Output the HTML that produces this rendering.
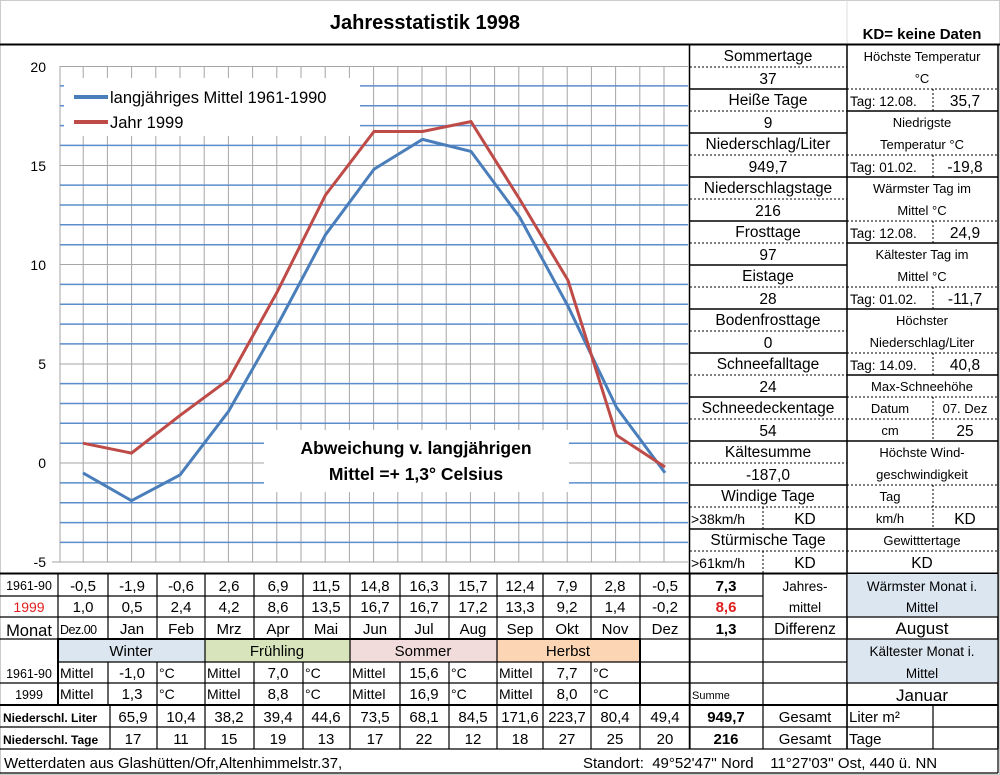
<!DOCTYPE html>
<html><head><meta charset="utf-8"><style>
body{margin:0;background:#fff}
svg{display:block;font-family:"Liberation Sans",sans-serif}
.c{text-anchor:middle}
</style></head><body>
<svg width="1000" height="775" viewBox="0 0 1000 775" xmlns="http://www.w3.org/2000/svg">
<rect x="0" y="0" width="1000" height="775" fill="#fff"/>
<rect x="0.5" y="0.5" width="999" height="774" fill="none" stroke="#ccc"/>
<line x1="847" y1="0" x2="847" y2="45" stroke="#ddd"/>
<text x="425" y="29" class="c" font-size="20" font-weight="bold">Jahresstatistik 1998</text>
<text x="922" y="39" class="c" font-size="15" font-weight="bold">KD= keine Daten</text>
<line x1="0" y1="44.5" x2="1000" y2="44.5" stroke="#000" stroke-width="2"/>

<!-- grid -->
<g stroke="#a6a6a6" stroke-width="1">
<line x1="83.2" y1="66" x2="83.2" y2="562"/><line x1="107.4" y1="66" x2="107.4" y2="562"/><line x1="131.6" y1="66" x2="131.6" y2="562"/><line x1="155.8" y1="66" x2="155.8" y2="562"/><line x1="180" y1="66" x2="180" y2="562"/><line x1="204.2" y1="66" x2="204.2" y2="562"/><line x1="228.4" y1="66" x2="228.4" y2="562"/><line x1="252.6" y1="66" x2="252.6" y2="562"/><line x1="276.8" y1="66" x2="276.8" y2="562"/><line x1="301" y1="66" x2="301" y2="562"/><line x1="325.2" y1="66" x2="325.2" y2="562"/><line x1="349.4" y1="66" x2="349.4" y2="562"/><line x1="373.6" y1="66" x2="373.6" y2="562"/><line x1="397.8" y1="66" x2="397.8" y2="562"/><line x1="422" y1="66" x2="422" y2="562"/><line x1="446.2" y1="66" x2="446.2" y2="562"/><line x1="470.4" y1="66" x2="470.4" y2="562"/><line x1="494.6" y1="66" x2="494.6" y2="562"/><line x1="518.8" y1="66" x2="518.8" y2="562"/><line x1="543" y1="66" x2="543" y2="562"/><line x1="567.2" y1="66" x2="567.2" y2="562"/><line x1="591.4" y1="66" x2="591.4" y2="562"/><line x1="615.6" y1="66" x2="615.6" y2="562"/><line x1="639.8" y1="66" x2="639.8" y2="562"/><line x1="664" y1="66" x2="664" y2="562"/>
<line x1="60" y1="66.5" x2="688" y2="66.5"/><line x1="60" y1="165.5" x2="688" y2="165.5"/><line x1="60" y1="264.5" x2="688" y2="264.5"/><line x1="60" y1="364" x2="688" y2="364"/><line x1="60" y1="463" x2="688" y2="463"/><line x1="52" y1="562" x2="688" y2="562"/>
<line x1="60" y1="66" x2="60" y2="562"/>
</g>
<g stroke="#5b8dcc" stroke-width="1.5">
<line x1="60" y1="85.9" x2="688" y2="85.9"/><line x1="60" y1="105.7" x2="688" y2="105.7"/><line x1="60" y1="125.6" x2="688" y2="125.6"/><line x1="60" y1="145.4" x2="688" y2="145.4"/>
<line x1="60" y1="185.1" x2="688" y2="185.1"/><line x1="60" y1="205" x2="688" y2="205"/><line x1="60" y1="224.8" x2="688" y2="224.8"/><line x1="60" y1="244.7" x2="688" y2="244.7"/>
<line x1="60" y1="284.4" x2="688" y2="284.4"/><line x1="60" y1="304.2" x2="688" y2="304.2"/><line x1="60" y1="324.1" x2="688" y2="324.1"/><line x1="60" y1="343.9" x2="688" y2="343.9"/>
<line x1="60" y1="383.6" x2="688" y2="383.6"/><line x1="60" y1="403.5" x2="688" y2="403.5"/><line x1="60" y1="423.3" x2="688" y2="423.3"/><line x1="60" y1="443.2" x2="688" y2="443.2"/>
<line x1="60" y1="482.9" x2="688" y2="482.9"/><line x1="60" y1="502.7" x2="688" y2="502.7"/><line x1="60" y1="522.6" x2="688" y2="522.6"/><line x1="60" y1="542.4" x2="688" y2="542.4"/>
</g>
<g font-size="14" text-anchor="end">
<text x="46" y="72">20</text><text x="46" y="171">15</text><text x="46" y="270">10</text><text x="46" y="369">5</text><text x="46" y="468">0</text><text x="46" y="567">-5</text>
</g>
<!-- legend -->
<rect x="64" y="78" width="296" height="58" fill="#fff"/>
<line x1="74" y1="97" x2="108" y2="97" stroke="#4a7ebb" stroke-width="4"/>
<text x="110" y="103" font-size="16.5">langjähriges Mittel 1961-1990</text>
<line x1="74" y1="122" x2="108" y2="122" stroke="#be4b48" stroke-width="4"/>
<text x="110" y="128" font-size="16.5">Jahr 1999</text>
<!-- text box -->
<rect x="264" y="430" width="305" height="62" fill="#fff"/>
<text x="416" y="454" class="c" font-size="17.5" font-weight="bold">Abweichung v. langjährigen</text>
<text x="416" y="480" class="c" font-size="17.5" font-weight="bold">Mittel =+  1,3° Celsius</text>
<!-- series -->
<polyline fill="none" stroke="#4a7ebb" stroke-width="3" points="83,472.9 131.5,500.7 180,474.9 228.5,411.4 277,326 325.5,234.7 374,169.2 422.5,139.4 471,151.4 519.5,216.9 568,306.2 616.5,407.4 665,472.9"/>
<polyline fill="none" stroke="#be4b48" stroke-width="3" points="83,443.2 131.5,453.1 180,415.4 228.5,379.6 277,292.3 325.5,195 374,131.5 422.5,131.5 471,121.6 519.5,199 568,280.4 616.5,435.2 665,467"/>

<!-- right panel -->
<g stroke="#000" stroke-width="1.5">
<line x1="689.5" y1="45" x2="689.5" y2="749"/>
<line x1="847" y1="45" x2="847" y2="749"/>
<line x1="998" y1="45" x2="998" y2="749"/>
</g>
<g stroke="#000" stroke-width="1.5">
<line x1="690" y1="89" x2="847" y2="89"/>
<line x1="690" y1="133" x2="847" y2="133"/>
<line x1="690" y1="177" x2="847" y2="177"/>
<line x1="690" y1="221" x2="847" y2="221"/>
<line x1="690" y1="265" x2="847" y2="265"/>
<line x1="690" y1="309" x2="847" y2="309"/>
<line x1="690" y1="353" x2="847" y2="353"/>
<line x1="690" y1="397" x2="847" y2="397"/>
<line x1="690" y1="441" x2="847" y2="441"/>
<line x1="690" y1="485" x2="847" y2="485"/>
<line x1="690" y1="529" x2="847" y2="529"/>
<line x1="847" y1="111" x2="998" y2="111"/>
<line x1="847" y1="177" x2="998" y2="177"/>
<line x1="847" y1="243" x2="998" y2="243"/>
<line x1="847" y1="309" x2="998" y2="309"/>
<line x1="847" y1="375" x2="998" y2="375"/>
<line x1="847" y1="441" x2="998" y2="441"/>
<line x1="847" y1="529" x2="998" y2="529"/>
<line x1="0" y1="573.5" x2="998" y2="573.5" stroke-width="2"/>
</g>
<g stroke="#000" stroke-width="1" stroke-dasharray="2,2">
<line x1="690" y1="67" x2="847" y2="67"/><line x1="690" y1="111" x2="847" y2="111"/><line x1="690" y1="155" x2="847" y2="155"/><line x1="690" y1="199" x2="847" y2="199"/><line x1="690" y1="243" x2="847" y2="243"/><line x1="690" y1="287" x2="847" y2="287"/><line x1="690" y1="331" x2="847" y2="331"/><line x1="690" y1="375" x2="847" y2="375"/><line x1="690" y1="419" x2="847" y2="419"/><line x1="690" y1="463" x2="847" y2="463"/><line x1="690" y1="507" x2="847" y2="507"/><line x1="690" y1="551" x2="847" y2="551"/>
<line x1="847" y1="89" x2="998" y2="89"/>
<line x1="847" y1="155" x2="998" y2="155"/>
<line x1="847" y1="221" x2="998" y2="221"/>
<line x1="847" y1="287" x2="998" y2="287"/>
<line x1="847" y1="353" x2="998" y2="353"/>
<line x1="847" y1="397" x2="998" y2="397"/>
<line x1="847" y1="419" x2="998" y2="419"/>
<line x1="847" y1="485" x2="998" y2="485"/>
<line x1="847" y1="507" x2="998" y2="507"/>
<line x1="847" y1="551" x2="998" y2="551"/>
<line x1="933" y1="89" x2="933" y2="111"/>
<line x1="933" y1="155" x2="933" y2="177"/>
<line x1="933" y1="221" x2="933" y2="243"/>
<line x1="933" y1="287" x2="933" y2="309"/>
<line x1="933" y1="353" x2="933" y2="375"/>
<line x1="933" y1="397" x2="933" y2="441"/>
<line x1="933" y1="485" x2="933" y2="529"/>
<line x1="763" y1="507" x2="763" y2="529"/>
<line x1="763" y1="551" x2="763" y2="573"/>
</g>
<g font-size="15.5" class="c">
<text x="768" y="61">Sommertage</text><text x="768" y="84">37</text>
<text x="768" y="105">Heiße Tage</text><text x="768" y="128">9</text>
<text x="768" y="149">Niederschlag/Liter</text><text x="768" y="172">949,7</text>
<text x="768" y="193">Niederschlagstage</text><text x="768" y="216">216</text>
<text x="768" y="237">Frosttage</text><text x="768" y="260">97</text>
<text x="768" y="281">Eistage</text><text x="768" y="304">28</text>
<text x="768" y="325">Bodenfrosttage</text><text x="768" y="348">0</text>
<text x="768" y="369">Schneefalltage</text><text x="768" y="392">24</text>
<text x="768" y="413">Schneedeckentage</text><text x="768" y="436">54</text>
<text x="768" y="457">Kältesumme</text><text x="768" y="480">-187,0</text>
<text x="768" y="501">Windige Tage</text>
<text x="768" y="545">Stürmische Tage</text>
<text x="805" y="524">KD</text><text x="805" y="568">KD</text>
<text x="965" y="106">35,7</text><text x="965" y="172">-19,8</text><text x="965" y="238">24,9</text><text x="965" y="304">-11,7</text><text x="965" y="370">40,8</text><text x="965" y="436">25</text><text x="965" y="524">KD</text><text x="922" y="568">KD</text>
</g>
<g font-size="14" text-anchor="start">
<text x="691" y="524">&gt;38km/h</text><text x="691" y="568">&gt;61km/h</text>
</g>
<g font-size="13" class="c">
<text x="922" y="61">Höchste Temperatur</text><text x="922" y="83">°C</text>
<text x="922" y="127">Niedrigste</text><text x="922" y="149">Temperatur °C</text>
<text x="922" y="193">Wärmster Tag im</text><text x="922" y="215">Mittel °C</text>
<text x="922" y="259">Kältester Tag im</text><text x="922" y="281">Mittel °C</text>
<text x="922" y="325">Höchster</text><text x="922" y="347">Niederschlag/Liter</text>
<text x="922" y="391">Max-Schneehöhe</text>
<text x="890" y="413">Datum</text><text x="965" y="413">07. Dez</text>
<text x="890" y="435">cm</text>
<text x="922" y="457">Höchste Wind-</text><text x="922" y="479">geschwindigkeit</text>
<text x="890" y="501">Tag</text><text x="890" y="523">km/h</text>
<text x="922" y="545">Gewitttertage</text>
</g>
<g font-size="13.5" text-anchor="start">
<text x="850" y="106">Tag: 12.08.</text><text x="850" y="172">Tag: 01.02.</text><text x="850" y="238">Tag: 12.08.</text><text x="850" y="304">Tag: 01.02.</text><text x="850" y="370">Tag: 14.09.</text>
</g>

<!-- bottom table -->
<rect x="847" y="574" width="151" height="43" fill="#dce6f1"/>
<rect x="847" y="639" width="151" height="44" fill="#dce6f1"/>
<rect x="58" y="639" width="147" height="23" fill="#dce6f1"/>
<rect x="205" y="639" width="145" height="23" fill="#d8e4bc"/>
<rect x="350" y="639" width="147" height="23" fill="#f2dcdb"/>
<rect x="497" y="639" width="143" height="23" fill="#fcd5b4"/>
<g stroke="#000" stroke-width="1.2">
<line x1="0" y1="596" x2="763" y2="596"/>
<line x1="0" y1="617" x2="998" y2="617"/>
<line x1="0" y1="639" x2="998" y2="639"/>
<line x1="58" y1="662" x2="847" y2="662"/>
<line x1="0" y1="683" x2="847" y2="683"/>
<line x1="847" y1="683" x2="998" y2="683"/>
<line x1="0" y1="705" x2="998" y2="705" stroke-width="2"/>
<line x1="0" y1="727" x2="998" y2="727"/>
<line x1="0" y1="749" x2="998" y2="749"/>
<line x1="0" y1="773" x2="998" y2="773"/>
<line x1="58" y1="574" x2="58" y2="705"/>
<line x1="108" y1="574" x2="108" y2="639"/><line x1="157" y1="574" x2="157" y2="639"/><line x1="205" y1="574" x2="205" y2="705"/><line x1="254" y1="574" x2="254" y2="639"/><line x1="303" y1="574" x2="303" y2="639"/><line x1="350" y1="574" x2="350" y2="705"/><line x1="400" y1="574" x2="400" y2="639"/><line x1="449" y1="574" x2="449" y2="639"/><line x1="497" y1="574" x2="497" y2="705"/><line x1="543" y1="574" x2="543" y2="639"/><line x1="591" y1="574" x2="591" y2="639"/><line x1="640" y1="574" x2="640" y2="749"/><line x1="690" y1="574" x2="690" y2="749"/><line x1="763" y1="574" x2="763" y2="749"/>
<line x1="108" y1="662" x2="108" y2="705"/><line x1="157" y1="662" x2="157" y2="705"/><line x1="254" y1="662" x2="254" y2="705"/><line x1="303" y1="662" x2="303" y2="705"/><line x1="400" y1="662" x2="400" y2="705"/><line x1="449" y1="662" x2="449" y2="705"/><line x1="543" y1="662" x2="543" y2="705"/><line x1="591" y1="662" x2="591" y2="705"/>
<line x1="110" y1="705" x2="110" y2="749"/><line x1="157" y1="705" x2="157" y2="749"/><line x1="205" y1="705" x2="205" y2="749"/><line x1="254" y1="705" x2="254" y2="749"/><line x1="303" y1="705" x2="303" y2="749"/><line x1="350" y1="705" x2="350" y2="749"/><line x1="400" y1="705" x2="400" y2="749"/><line x1="449" y1="705" x2="449" y2="749"/><line x1="497" y1="705" x2="497" y2="749"/><line x1="543" y1="705" x2="543" y2="749"/><line x1="591" y1="705" x2="591" y2="749"/><line x1="933" y1="705" x2="933" y2="749"/>
<line x1="847" y1="574" x2="847" y2="749"/><line x1="998" y1="574" x2="998" y2="773"/>
</g>
<rect x="58" y="639" width="582" height="66" fill="none" stroke="#000" stroke-width="2"/>
<g font-size="15" class="c">
<text x="83" y="591">-0,5</text><text x="132" y="591">-1,9</text><text x="181" y="591">-0,6</text><text x="229" y="591">2,6</text><text x="278" y="591">6,9</text><text x="326" y="591">11,5</text><text x="375" y="591">14,8</text><text x="424" y="591">16,3</text><text x="473" y="591">15,7</text><text x="520" y="591">12,4</text><text x="567" y="591">7,9</text><text x="615" y="591">2,8</text><text x="665" y="591">-0,5</text>
<text x="83" y="612">1,0</text><text x="132" y="612">0,5</text><text x="181" y="612">2,4</text><text x="229" y="612">4,2</text><text x="278" y="612">8,6</text><text x="326" y="612">13,5</text><text x="375" y="612">16,7</text><text x="424" y="612">16,7</text><text x="473" y="612">17,2</text><text x="520" y="612">13,3</text><text x="567" y="612">9,2</text><text x="615" y="612">1,4</text><text x="665" y="612">-0,2</text>
<text x="132" y="634">Jan</text><text x="181" y="634">Feb</text><text x="229" y="634">Mrz</text><text x="278" y="634">Apr</text><text x="326" y="634">Mai</text><text x="375" y="634">Jun</text><text x="424" y="634">Jul</text><text x="473" y="634">Aug</text><text x="520" y="634">Sep</text><text x="567" y="634">Okt</text><text x="615" y="634">Nov</text><text x="665" y="634">Dez</text>
<text x="131" y="656">Winter</text><text x="277" y="656">Frühling</text><text x="423" y="656">Sommer</text><text x="568" y="656">Herbst</text>
<text x="132" y="678">-1,0</text><text x="278" y="678">7,0</text><text x="424" y="678">15,6</text><text x="567" y="678">7,7</text>
<text x="132" y="699">1,3</text><text x="278" y="699">8,8</text><text x="424" y="699">16,9</text><text x="567" y="699">8,0</text>
<text x="133" y="722">65,9</text><text x="181" y="722">10,4</text><text x="229" y="722">38,2</text><text x="278" y="722">39,4</text><text x="326" y="722">44,6</text><text x="375" y="722">73,5</text><text x="424" y="722">68,1</text><text x="473" y="722">84,5</text><text x="520" y="722">171,6</text><text x="567" y="722">223,7</text><text x="615" y="722">80,4</text><text x="665" y="722">49,4</text>
<text x="133" y="744">17</text><text x="181" y="744">11</text><text x="229" y="744">15</text><text x="278" y="744">19</text><text x="326" y="744">13</text><text x="375" y="744">17</text><text x="424" y="744">22</text><text x="473" y="744">12</text><text x="520" y="744">18</text><text x="567" y="744">27</text><text x="615" y="744">25</text><text x="665" y="744">20</text>
<text x="805" y="722">Gesamt</text><text x="805" y="744">Gesamt</text>
<text x="805" y="591" font-size="13.5">Jahres-</text><text x="805" y="612" font-size="13.5">mittel</text>
<text x="805" y="634" font-size="15.5">Differenz</text>
<text x="922" y="591" font-size="13.5">Wärmster Monat i.</text><text x="922" y="612" font-size="13.5">Mittel</text>
<text x="922" y="634" font-size="17">August</text>
<text x="922" y="656" font-size="13.5">Kältester Monat i.</text><text x="922" y="678" font-size="13.5">Mittel</text>
<text x="922" y="701" font-size="17">Januar</text>
</g>
<g font-size="15" class="c" font-weight="bold">
<text x="726" y="591">7,3</text><text x="726" y="612" fill="#e02020">8,6</text><text x="726" y="634">1,3</text>
<text x="726" y="722">949,7</text><text x="726" y="744">216</text>
</g>
<g font-size="14" text-anchor="start">
<text x="60" y="678">Mittel</text><text x="207" y="678">Mittel</text><text x="352" y="678">Mittel</text><text x="499" y="678">Mittel</text>
<text x="60" y="699">Mittel</text><text x="207" y="699">Mittel</text><text x="352" y="699">Mittel</text><text x="499" y="699">Mittel</text>
<text x="159" y="678">°C</text><text x="305" y="678">°C</text><text x="451" y="678">°C</text><text x="593" y="678">°C</text>
<text x="159" y="699">°C</text><text x="305" y="699">°C</text><text x="451" y="699">°C</text><text x="593" y="699">°C</text>
<text x="849" y="722" font-size="15">Liter m²</text><text x="849" y="744" font-size="15">Tage</text>
<text x="60" y="634" font-size="12.5" letter-spacing="-0.5">Dez.00</text>
<text x="692" y="699" font-size="11">Summe</text>
</g>
<g font-size="12.5" class="c">
<text x="29" y="590">1961-90</text><text x="29" y="612" font-size="14" fill="#e02020">1999</text>
<text x="29" y="678">1961-90</text><text x="29" y="699">1999</text>
<text x="29" y="636" font-size="16.5">Monat</text>
</g>
<g font-size="12" font-weight="bold" text-anchor="start">
<text x="3" y="722">Niederschl. Liter</text><text x="3" y="744">Niederschl. Tage</text>
</g>
<text x="4" y="768" font-size="15">Wetterdaten aus Glashütten/Ofr,Altenhimmelstr.37,</text>
<text x="583" y="768" font-size="15" xml:space="preserve">Standort:  49°52'47'' Nord    11°27'03'' Ost, 440 ü. NN</text>
</svg>
</body></html>
